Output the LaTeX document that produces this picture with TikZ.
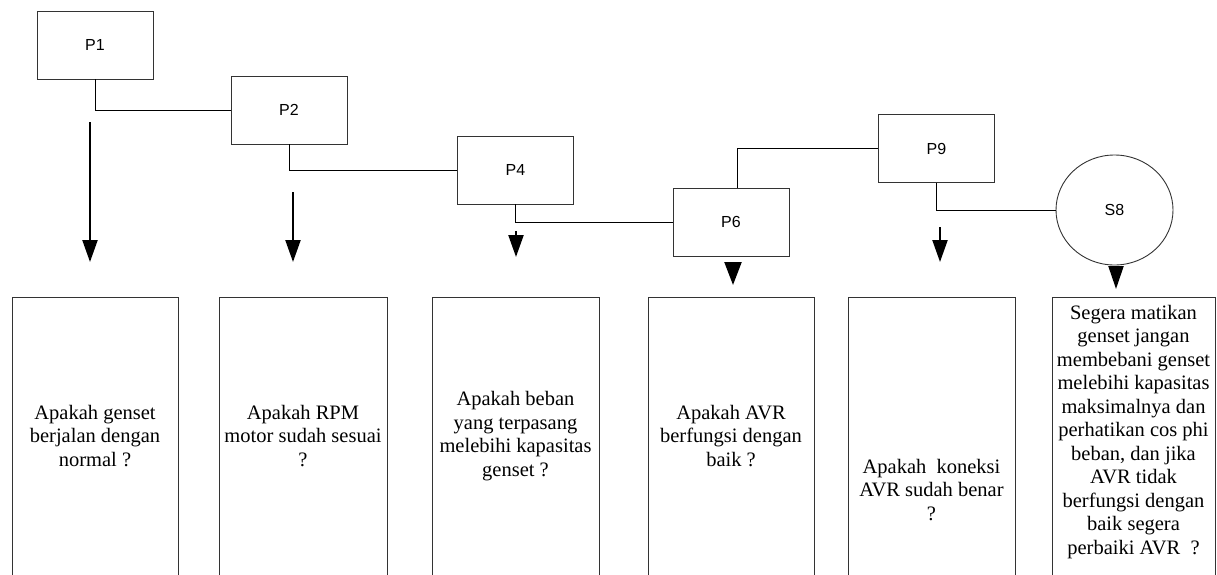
\documentclass[tikz,border=0pt]{standalone}
\usepackage{fontspec}
\setmainfont{Liberation Serif}
\setsansfont{Liberation Sans}
\usetikzlibrary{arrows.meta,shapes.geometric}
\begin{document}
\begin{tikzpicture}[x=1pt,y=-1pt,
  pbox/.style={draw=black!80,line width=0.9pt,minimum width=116pt,minimum height=68pt,inner sep=0pt,
    font=\sffamily\fontsize{16}{18}\selectfont},
  sbox/.style={draw=black!80,line width=0.9pt,ellipse,minimum width=117pt,minimum height=110pt,inner sep=0pt,
    font=\sffamily\fontsize{16}{18}\selectfont},
  qbox/.style={draw=black!80,line width=0.9pt,minimum height=320pt,anchor=north,inner sep=0pt},
  qtext/.style={align=center,inner sep=0pt,font=\fontsize{20.5}{23.5}\selectfont},
  conn/.style={draw=black,line width=0.9pt},
  bigarrow/.style={draw=black,line width=2.2pt,-{Triangle[width=15pt,length=22pt]}},
]
\useasboundingbox (0,0) rectangle (1217,574);
\clip (0,0) rectangle (1217,574);

% top nodes
\node[pbox] (P1) at (95,45) {P1};
\node[pbox] (P2) at (289,110) {P2};
\node[pbox] (P4) at (515.5,170) {P4};
\node[pbox] (P6) at (731,222) {P6};
\node[pbox] (P9) at (936.5,148.5) {P9};
\node[sbox] (S8) at (1114.5,210) {S8};

% connectors
\draw[conn] (P1.south) |- (P2.west);
\draw[conn] (P2.south) |- (P4.west);
\draw[conn] (P4.south) |- (P6.west);
\draw[conn] ([xshift=6pt]P6.north) |- (P9.west);
\draw[conn] (P9.south) |- (S8.west);

% arrows
\coordinate (a1s) at (90,122);   \coordinate (a1e) at (90,262);
\coordinate (a2s) at (293,192);  \coordinate (a2e) at (293,262);
\coordinate (a3s) at (516,231);  \coordinate (a3e) at (516,257);
\coordinate (a4s) at (733,262);  \coordinate (a4e) at (733,285);
\coordinate (a5s) at (940,227);  \coordinate (a5e) at (940,262);
\coordinate (a6s) at (1116,266); \coordinate (a6e) at (1116,289);
\draw[bigarrow] (a1s) -- (a1e);
\draw[bigarrow] (a2s) -- (a2e);
\draw[bigarrow] (a3s) -- (a3e);
\draw[bigarrow,-{Triangle[width=17pt,length=23pt]}] (a4s) -- (a4e);
\draw[bigarrow] (a5s) -- (a5e);
\draw[bigarrow,-{Triangle[width=15pt,length=23pt]}] (a6s) -- (a6e);

% bottom boxes
\node[qbox,minimum width=166pt] (B1) at (95,297) {};
\node[qbox,minimum width=168pt] (B2) at (303,297) {};
\node[qbox,minimum width=167pt] (B3) at (515.5,297) {};
\node[qbox,minimum width=166pt] (B4) at (731,297) {};
\node[qbox,minimum width=167pt] (B5) at (931.5,297) {};
\node[qbox,minimum width=163pt] (B6) at (1133.5,297) {};

% texts
\node[qtext] (T1) at (95,436) {Apakah genset\\berjalan dengan\\normal ?};
\node[qtext] (T2) at (303,436) {Apakah RPM\\motor sudah sesuai\\?};
\node[qtext] (T3) at (515.5,436) {Apakah beban\\yang terpasang\\melebihi kapasitas\\genset ?};
\node[qtext] (T4) at (731,436) {Apakah AVR\\berfungsi dengan\\baik ?};
\node[qtext] (T5) at (931.5,490) {Apakah\ \ koneksi\\AVR sudah benar\\?};
\node[qtext] (T6) at (1133.5,432) {Segera matikan\\genset jangan\\membebani genset\\melebihi kapasitas\\maksimalnya dan\\perhatikan cos phi\\beban, dan jika\\AVR tidak\\berfungsi dengan\\baik segera\\perbaiki AVR\ \ ?};
\end{tikzpicture}
\end{document}
